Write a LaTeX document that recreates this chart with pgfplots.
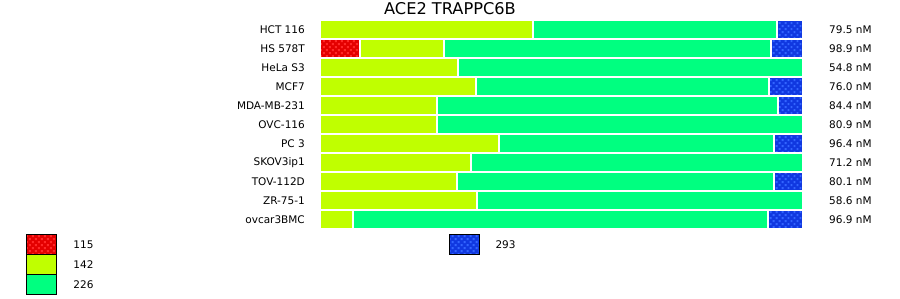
\documentclass[border=0pt]{standalone}
\usepackage{pgfplots}
\pgfplotsset{compat=1.18}
\usepackage{fontspec}
\setmainfont{DejaVu Sans}
\usetikzlibrary{patterns.meta}
\definecolor{cred}{RGB}{228,0,0}
\definecolor{cdotred}{RGB}{255,40,40}
\definecolor{cyel}{RGB}{192,255,0}
\definecolor{cgrn}{RGB}{0,255,128}
\definecolor{cblu}{RGB}{16,56,224}
\definecolor{cdotblu}{RGB}{50,100,255}
\tikzset{
  redpat/.style={fill=cred, postaction={pattern={Dots[radius=1.4pt,distance=4.24pt,angle=45]}, pattern color=cdotred}},
  blupat/.style={fill=cblu, postaction={pattern={Dots[radius=1.4pt,distance=4.24pt,angle=45]}, pattern color=cdotblu}},
}
\newcommand{\fs}{\fontsize{10.5}{12}\selectfont}
\begin{document}
\begin{tikzpicture}
\path[use as bounding box] (0,0) rectangle (900pt,299pt);
\node[anchor=base, font=\fontsize{16.2}{19}\selectfont] at (450pt,284pt) {ACE2 TRAPPC6B};
\begin{axis}[
  at={(320pt,70pt)}, anchor=south west,
  scale only axis, width=483pt, height=209pt,
  xbar stacked, bar width=19pt, bar shift=0pt,
  xmin=0, xmax=483, ymin=-0.5, ymax=10.5, y dir=reverse,
  axis x line=none,
  y axis line style={draw=none},
  ytick={0,...,10}, major tick length=0pt, ytick style={draw=none},
  yticklabels={HCT 116,HS 578T,HeLa S3,MCF7,MDA-MB-231,OVC-116,PC 3,SKOV3ip1,TOV-112D,ZR-75-1,ovcar3BMC},
  yticklabel style={font=\fs, anchor=east, inner sep=0pt, xshift=-15pt},
  every axis plot/.append style={draw=white, line width=2pt},
  clip=false,
  legend columns=2,
  legend style={draw=none, fill=none, inner sep=0pt, outer sep=0pt,
    at={(axis description cs:-0.6077,-0.0263)}, anchor=north west,
    row sep=-1pt,
    nodes={inner sep=0pt, font=\fs},
    /tikz/every odd column/.append style={column sep=16pt},
    /tikz/every even column/.append style={column sep=355pt}},
]
\addplot[redpat, forget plot] coordinates {(0,0) (40,1) (0,2) (0,3) (0,4) (0,5) (0,6) (0,7) (0,8) (0,9) (0,10)};
\addplot[fill=cyel, forget plot] coordinates {(213,0) (84,1) (138,2) (156,3) (117,4) (117,5) (179,6) (151,7) (137,8) (157,9) (33,10)};
\addplot[fill=cgrn, forget plot] coordinates {(244,0) (327,1) (345,2) (293,3) (341,4) (366,5) (275,6) (332,7) (317,8) (326,9) (415,10)};
\addplot[blupat, forget plot] coordinates {(26,0) (32,1) (0,2) (34,3) (25,4) (0,5) (29,6) (0,7) (29,8) (0,9) (35,10)};
\addlegendimage{legend image code/.code={\draw[redpat, draw=black, line width=1pt] (0pt,-10pt) rectangle (30pt,10pt);}}
\addlegendentry{115}
\addlegendimage{legend image code/.code={\draw[blupat, draw=black, line width=1pt] (0pt,-10pt) rectangle (30pt,10pt);}}
\addlegendentry{293}
\addlegendimage{legend image code/.code={\draw[fill=cyel, draw=black, line width=1pt] (0pt,-10pt) rectangle (30pt,10pt);}}
\addlegendentry{142}
\addlegendimage{empty legend}
\addlegendentry{}
\addlegendimage{legend image code/.code={\draw[fill=cgrn, draw=black, line width=1pt] (0pt,-10pt) rectangle (30pt,10pt);}}
\addlegendentry{226}
\addlegendimage{empty legend}
\addlegendentry{}
\foreach \v [count=\i from 0] in {79.5,98.9,54.8,76.0,84.4,80.9,96.4,71.2,80.1,58.6,96.9} {
  \edef\tmp{\noexpand\node[anchor=west, inner sep=0pt, font=\noexpand\fs] at (axis cs:483,\i) [xshift=26pt] {\v\noexpand~nM};}
  \tmp
}
\end{axis}
\end{tikzpicture}
\end{document}
